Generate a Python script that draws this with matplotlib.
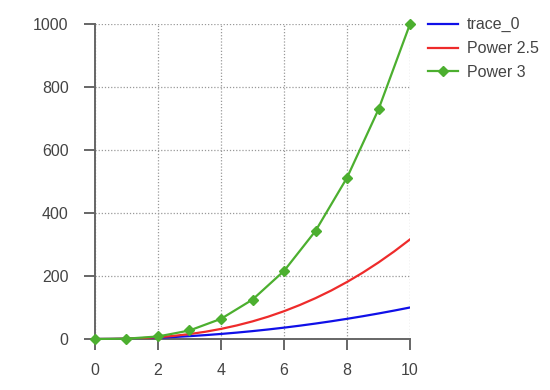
import matplotlib
matplotlib.use("Agg")
import matplotlib.pyplot as plt

plt.rcParams['font.family'] = ['Liberation Sans', 'DejaVu Sans']

x_smooth = [0, 0.5, 1, 1.5, 2, 2.5, 3, 3.5, 4, 4.5, 5, 5.5, 6, 6.5, 7, 7.5, 8, 8.5, 9, 9.5, 10]
trace_0 = [0, 0.25, 1, 2.25, 4, 6.25, 9, 12.25, 16, 20.25, 25, 30.25, 36, 42.25, 49, 56.25, 64, 72.25, 81, 90.25, 100]
power_25 = [0, 0.18, 1, 2.76, 5.66, 9.88, 15.6, 22.9, 32, 43.0, 55.9, 70.9, 88.2, 107.8, 129.6, 153.9, 181.0, 210.6, 243, 278.2, 316.2]
x_int = [0, 1, 2, 3, 4, 5, 6, 7, 8, 9, 10]
power_3 = [0, 1, 8, 27, 64, 125, 216, 343, 512, 729, 1000]

x_ticks = [0, 2, 4, 6, 8, 10]
y_ticks = [0, 200, 400, 600, 800, 1000]

fig = plt.figure(figsize=(5.5, 3.9), dpi=100)
ax = fig.add_axes([0.1727, 0.1308, 0.5728, 0.8077])

ax.plot(x_smooth, trace_0, color='#1010e8', lw=1.6, label='trace_0', zorder=3)
ax.plot(x_smooth, power_25, color='#ee2b2b', lw=1.6, label='Power 2.5', zorder=3)
ax.plot(x_int, power_3, color='#4caf2f', lw=1.6, marker='D', markersize=5.5,
        label='Power 3', zorder=4, clip_on=False)

ax.set_xlim(0, 10)
ax.set_ylim(0, 1000)
ax.set_xticks(x_ticks)
ax.set_yticks(y_ticks)
ax.grid(True, linestyle=(0, (1, 1.5)), color='#999999', lw=0.9)

for s in ['top', 'right']:
    ax.spines[s].set_visible(False)
for s in ['left', 'bottom']:
    ax.spines[s].set_color('#666666')
    ax.spines[s].set_linewidth(1.4)
ax.tick_params(axis='both', direction='out', length=8, width=1.4, color='#666666',
               labelcolor='#444444', labelsize=11.5)
ax.tick_params(axis='y', pad=11)
ax.tick_params(axis='x', pad=9)

leg = ax.legend(loc='upper left', bbox_to_anchor=(1.01, 1.067), frameon=False,
                fontsize=11.5, handlelength=1.9, labelspacing=0.55, handletextpad=0.55)
for t in leg.get_texts():
    t.set_color('#444444')

fig.savefig('out.png', dpi=100)
